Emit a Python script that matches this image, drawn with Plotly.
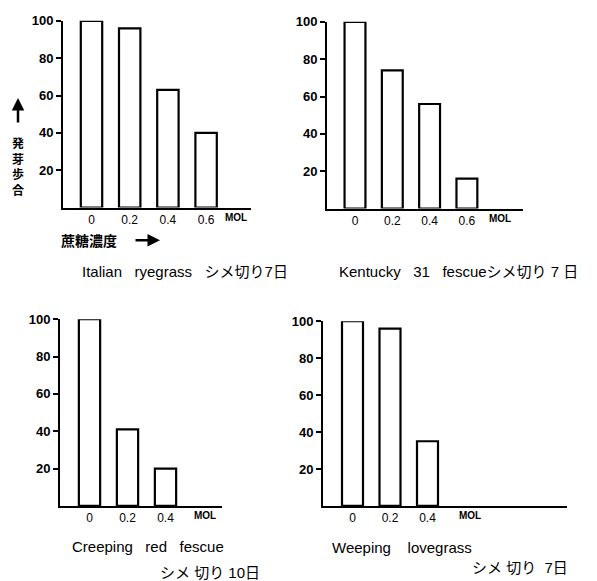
import plotly.graph_objects as go

W, H = 597, 581

# ---- data ----
conc_labels = ["0", "0.2", "0.4", "0.6"]
italian_ryegrass = [100, 96, 63, 40]
kentucky31_fescue = [100, 74, 56, 16]
creeping_red_fescue = [100, 41, 20]
weeping_lovegrass = [100, 96, 35]
y_ticks = [20, 40, 60, 80, 100]
unit_label = "MOL"

titles = [
    ["Italian   ryegrass   シメ切り7日"],
    ["Kentucky   31   fescueシメ切り 7 日"],
    ["Creeping   red   fescue", "シメ 切り 10日"],
    ["Weeping    lovegrass", "シメ 切り  7日"],
]

# ---- layout helpers (pixel geometry) ----
def px_x(p):
    return p / W

def px_y(p):
    return 1 - p / H

panels = [
    dict(l=63, r=251, t=14, b=203, c0=91.5, step=38.2, mol=236, vals=italian_ryegrass),
    dict(l=327, r=523, t=15, b=204, c0=355, step=37.3, mol=500, vals=kentucky31_fescue),
    dict(l=60, r=222, t=316, b=505, c0=89.5, step=38.0, mol=205, vals=creeping_red_fescue),
    dict(l=323, r=567, t=318, b=505, c0=352.5, step=37.5, mol=470, vals=weeping_lovegrass),
]

FONT = "Liberation Sans, Arial, Noto Sans CJK JP, sans-serif"
JFONT = "Noto Sans CJK JP, Liberation Sans, sans-serif"

fig = go.Figure()
layout = dict(
    width=W, height=H, margin=dict(l=0, r=0, t=0, b=0),
    paper_bgcolor="white", plot_bgcolor="white", showlegend=False,
    font=dict(family=FONT, color="black"),
)
annotations = []

for i, p in enumerate(panels):
    n = i + 1
    xa = "x" if n == 1 else f"x{n}"
    ya = "y" if n == 1 else f"y{n}"
    idx = list(range(len(p["vals"])))
    fig.add_trace(go.Bar(
        x=idx, y=p["vals"], width=0.56,
        marker=dict(color="white", line=dict(color="black", width=2.2)),
        xaxis=xa, yaxis=ya, hoverinfo="skip",
    ))
    xr = [(p["l"] - p["c0"]) / p["step"], (p["r"] - p["c0"]) / p["step"]]
    layout[f"xaxis{'' if n == 1 else n}"] = dict(
        domain=[px_x(p["l"]), px_x(p["r"])], range=xr, anchor=ya,
        showline=True, linecolor="black", linewidth=2, showgrid=False, zeroline=False,
        tickvals=idx, ticktext=conc_labels[:len(idx)], ticks="",
        ticklabelstandoff=0,
        tickfont=dict(size=12, family=FONT), fixedrange=True,
    )
    layout[f"yaxis{'' if n == 1 else n}"] = dict(
        domain=[px_y(p["b"]), px_y(p["t"])], range=[0, 100], anchor=xa,
        showline=True, linecolor="black", linewidth=2, showgrid=False, zeroline=False,
        tickvals=y_ticks, ticks="outside", ticklen=5, tickwidth=1.5, tickcolor="black",
        ticklabelstandoff=0,
        tickfont=dict(size=13, family=FONT, weight="bold"), fixedrange=True,
    )
    annotations.append(dict(
        x=(p["mol"] - p["c0"]) / p["step"], xref=xa, y=px_y(p["b"] + 10), yref="paper",
        text=unit_label, showarrow=False, yanchor="middle",
        font=dict(size=10, family=FONT, weight="bold"),
    ))

# titles
title_pos = [
    [(80, 268)],
    [(337, 268)],
    [(70, 546), (158, 572)],
    [(330, 547), (470, 567)],
]
for lines, poss in zip(titles, title_pos):
    for t, (xx, yy) in zip(lines, poss):
        annotations.append(dict(
            x=px_x(xx), y=px_y(yy), xref="paper", yref="paper", text=t,
            showarrow=False, xanchor="left", yanchor="middle",
            font=dict(size=15, family=FONT),
        ))

# y label of first panel (vertical, stacked) with up arrow
annotations.append(dict(
    x=px_x(18), y=px_y(161), xref="paper", yref="paper",
    text="発<br>芽<br>歩<br>合", showarrow=False, font=dict(size=12, family=JFONT, weight="bold"),
    xanchor="center", yanchor="middle",
))
annotations.append(dict(
    x=px_x(18), y=px_y(92), xref="paper", yref="paper", text="",
    showarrow=True, ax=0, ay=26, arrowhead=2, arrowsize=1, arrowwidth=2.5, arrowcolor="black",
))
# x label of first panel with right arrow
annotations.append(dict(
    x=px_x(59), y=px_y(236), xref="paper", yref="paper", text="蔗糖濃度",
    showarrow=False, xanchor="left", yanchor="middle",
    font=dict(size=14, family=JFONT, weight="bold"),
))
annotations.append(dict(
    x=px_x(160), y=px_y(236), xref="paper", yref="paper", text="",
    showarrow=True, ax=-26, ay=0, arrowhead=2, arrowsize=1, arrowwidth=2.5, arrowcolor="black",
))

layout["annotations"] = annotations
fig.update_layout(**layout)
fig.write_html("out.html")
